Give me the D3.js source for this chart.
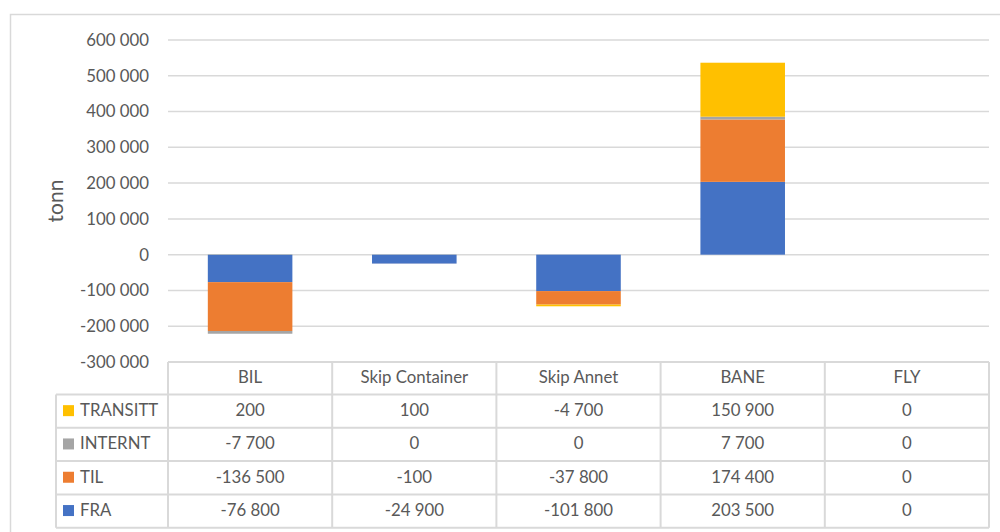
<!DOCTYPE html>
<html>
<head>
<meta charset="utf-8">
<script src="https://cdn.jsdelivr.net/npm/d3@7"></script>
<style>
  body { margin: 0; background: #fff; }
  text { font-family: Lato, "Liberation Sans", sans-serif; fill: #595959; }
</style>
</head>
<body>
<div id="chart"></div>
<script>
// Datos
const categories = ["BIL", "Skip Container", "Skip Annet", "BANE", "FLY"];
const seriesNames = ["FRA", "TIL", "INTERNT", "TRANSITT"];
const FRA = [-76800, -24900, -101800, 203500, 0];
const TIL = [-136500, -100, -37800, 174400, 0];
const INTERNT = [-7700, 0, 0, 7700, 0];
const TRANSITT = [200, 100, -4700, 150900, 0];
const yTicks = [-300000, -200000, -100000, 0, 100000, 200000, 300000, 400000, 500000, 600000];
const colors = ["#4472C4", "#ED7D31", "#A5A5A5", "#FFC000"];

const values = { FRA, TIL, INTERNT, TRANSITT };
const data = categories.map((c, i) => {
  let obj = { name: c };
  seriesNames.forEach((k) => (obj[k] = values[k][i]));
  return obj;
});

const width = 1000, height = 532;
const plot = { left: 168, right: 989, top: 40, bottom: 362 };
const rowH = 33.3;
const headerH = 32.5;
const fontSize = "16.8px";

const fmt = d3.formatLocale({ decimal: ",", thousands: " ", grouping: [3], currency: ["", ""], minus: "-" }).format(",d");

const svg = d3.select("#chart").append("svg")
  .attr("width", width).attr("height", height);

// marco exterior
svg.append("rect")
  .attr("x", 10.5).attr("y", 14.5)
  .attr("width", 1000).attr("height", 540)
  .attr("fill", "none").attr("stroke", "#d9d9d9").attr("stroke-width", 1.5);

const x = d3.scaleBand().domain(categories).range([plot.left, plot.right])
  .paddingInner(0.485).paddingOuter(0.2425);

const y = d3.scaleLinear().domain([-300000, 600000]).range([plot.bottom, plot.top]);

const color = d3.scaleOrdinal().domain(seriesNames).range(colors);

// lineas de cuadricula
svg.append("g")
  .selectAll("line")
  .data(yTicks.filter((d) => d !== -300000))
  .join("line")
  .attr("x1", plot.left).attr("x2", plot.right)
  .attr("y1", (d) => y(d)).attr("y2", (d) => y(d))
  .attr("stroke", "#d9d9d9").attr("stroke-width", 1.5);

// eje y
const yAxis = svg.append("g")
  .attr("transform", `translate(${plot.left - 19},0)`)
  .call(d3.axisLeft(y).tickValues(yTicks).tickSize(0).tickPadding(0).tickFormat(fmt));
yAxis.select(".domain").remove();
yAxis.selectAll("text")
  .style("font-size", fontSize)
  .style("font-family", "Lato, sans-serif")
  .attr("fill", "#595959")
  .attr("dy", "0.32em");

svg.append("text")
  .attr("transform", `translate(54,${(plot.top + plot.bottom) / 2}) rotate(-90)`)
  .attr("text-anchor", "middle")
  .attr("dominant-baseline", "central")
  .style("font-size", "21px")
  .text("tonn");

// barras apiladas
const series = d3.stack().keys(seriesNames).offset(d3.stackOffsetDiverging)(data);

svg.append("g")
  .selectAll("g")
  .data(series)
  .join("g")
  .attr("fill", (d) => color(d.key))
  .selectAll("rect")
  .data((d) => d)
  .join("rect")
  .attr("x", (d) => x(d.data.name))
  .attr("y", (d) => y(Math.max(d[0], d[1])))
  .attr("height", (d) => Math.abs(y(d[0]) - y(d[1])))
  .attr("width", x.bandwidth());

// tabla de datos
const table = svg.append("g");
const lineColor = "#d9d9d9";
const tableTop = plot.bottom;
const rowsTop = tableTop + headerH;
const tableLeft = 56;
const step = x.step();
const rowOrder = seriesNames.slice().reverse();
const tableBottom = rowsTop + rowOrder.length * rowH;

// lineas horizontales
table.append("line")
  .attr("x1", plot.left).attr("x2", plot.right)
  .attr("y1", tableTop).attr("y2", tableTop)
  .attr("stroke", lineColor).attr("stroke-width", 2);
d3.range(rowOrder.length + 1).forEach((i) => {
  table.append("line")
    .attr("x1", tableLeft).attr("x2", plot.right)
    .attr("y1", rowsTop + i * rowH).attr("y2", rowsTop + i * rowH)
    .attr("stroke", lineColor).attr("stroke-width", 2);
});
// lineas verticales
table.append("line")
  .attr("x1", tableLeft).attr("x2", tableLeft)
  .attr("y1", rowsTop).attr("y2", tableBottom)
  .attr("stroke", lineColor).attr("stroke-width", 2);
d3.range(categories.length + 1).forEach((i) => {
  const xx = plot.left + i * step;
  table.append("line")
    .attr("x1", xx).attr("x2", xx)
    .attr("y1", tableTop).attr("y2", tableBottom)
    .attr("stroke", lineColor).attr("stroke-width", 2);
});

// encabezados
table.selectAll("text.header")
  .data(categories)
  .join("text")
  .attr("class", "header")
  .attr("x", (d) => x(d) + x.bandwidth() / 2)
  .attr("y", tableTop + headerH / 2 - 1.5)
  .attr("text-anchor", "middle")
  .attr("dominant-baseline", "central")
  .style("font-size", fontSize)
  .text((d) => d);

rowOrder.forEach((key, r) => {
  const cy = rowsTop + r * rowH + rowH / 2;
  table.append("rect")
    .attr("x", 63).attr("y", cy - 6)
    .attr("width", 11).attr("height", 11)
    .attr("fill", color(key));
  table.append("text")
    .attr("x", 80).attr("y", cy - 1.5)
    .attr("dominant-baseline", "central")
    .style("font-size", fontSize)
    .text(key);
  categories.forEach((c, i) => {
    table.append("text")
      .attr("x", x(c) + x.bandwidth() / 2)
      .attr("y", cy - 1.5)
      .attr("text-anchor", "middle")
      .attr("dominant-baseline", "central")
      .style("font-size", fontSize)
      .text(fmt(values[key][i]));
  });
});
</script>
</body>
</html>
